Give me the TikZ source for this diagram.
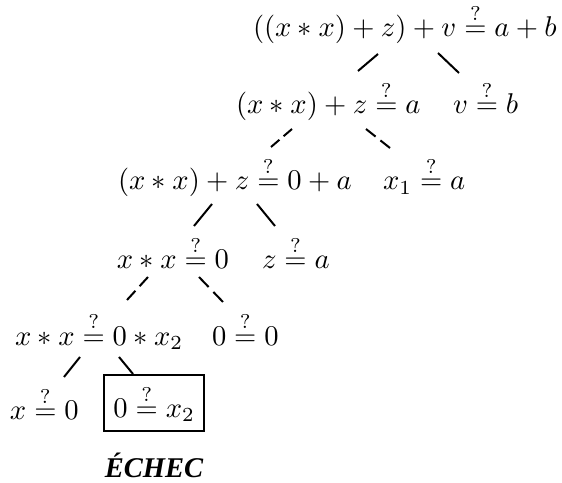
\documentclass[tikz,border=0pt]{standalone}
\usepackage{fontspec}
\newfontfamily\echecfont{Liberation Serif}
\usetikzlibrary{calc}
\begin{document}
\begin{tikzpicture}[x=0.35pt,y=-0.35pt,
  eq/.style={inner sep=0pt,outer sep=0pt,anchor=base west},
  edge/.style={line width=0.7pt},
  failbox/.style={draw,line width=0.7pt,inner sep=3.3pt,anchor=north west}]
\useasboundingbox (0,0) rectangle (562,483);
\newcommand{\qeq}{\stackrel{?}{=}}
\newcommand{\dconn}[2]{%
  \coordinate (dA) at ($#1$);
  \coordinate (dB) at ($#2$);
  \draw[edge] (dA) -- ($(dA)!0.4!(dB)$);
  \draw[edge] ($(dA)!0.6!(dB)$) -- (dB);}
\node[eq] (r1) at (253,37) {$((x*x)+z)+v \qeq a+b$};
\node[eq] (r2a) at (236,114) {$(x*x)+z \qeq a$};
\node[eq] (r2b) at (453,114) {$v \qeq b$};
\node[eq] (r3a) at (118,190) {$(x*x)+z \qeq 0+a$};
\node[eq] (r3b) at (383,190) {$x_1 \qeq a$};
\node[eq] (r4a) at (117,269) {$x*x \qeq 0$};
\node[eq] (r4b) at (262,269) {$z \qeq a$};
\node[eq] (r5a) at (15,345) {$x*x \qeq 0*x_2$};
\node[eq] (r5b) at (212,345) {$0 \qeq 0$};
\node[eq] (r6a) at (10,420) {$x \qeq 0$};
\node[failbox] (r6b) at (103,374) {$0 \qeq x_2$};
\node[anchor=base,inner sep=0pt] (fail) at (154,478) {\echecfont\bfseries\itshape ÉCHEC};
% connectors
\draw[edge] ($(r1.base west)+(125,17)$) -- ($(r2a.base west)+(122,-43)$);
\draw[edge] ($(r1.base west)+(185,16)$) -- ($(r2b.base west)+(6,-41)$);
\dconn{(r2a.base west)+(56,15)}{(r3a.base west)+(153,-43)}
\dconn{(r2a.base west)+(130,15)}{(r3b.base west)+(7,-42)}
\draw[edge] ($(r3a.base west)+(94,14)$) -- ($(r4a.base west)+(77,-43)$);
\draw[edge] ($(r3a.base west)+(139,14)$) -- ($(r4b.base west)+(13,-43)$);
\dconn{(r4a.base west)+(31,8)}{(r5a.base west)+(112,-45)}
\dconn{(r4a.base west)+(82,8)}{(r5b.base west)+(11,-43)}
\draw[edge] ($(r5a.base west)+(65,12)$) -- ($(r6a.base west)+(54,-43)$);
\draw[edge] ($(r5a.base west)+(104,12)$) -- ($(r6b.north west)+(30,0)$);
\end{tikzpicture}
\end{document}
